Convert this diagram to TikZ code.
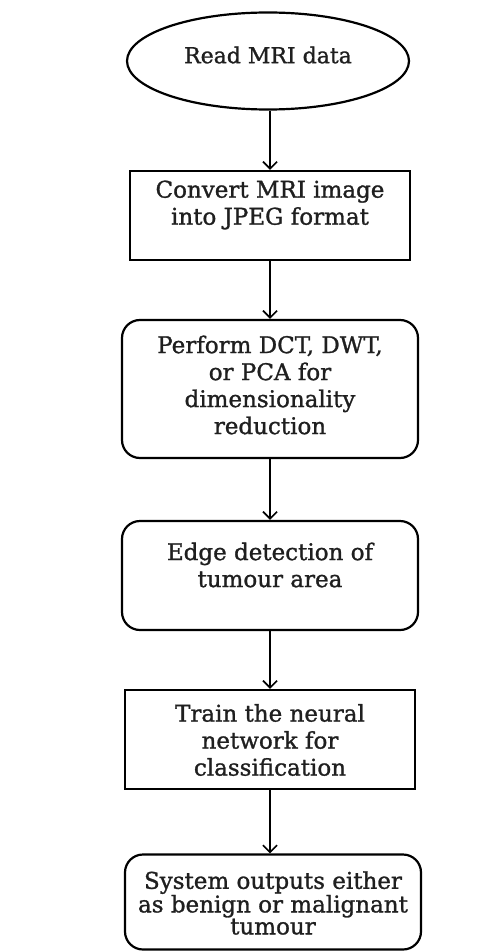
\documentclass[tikz,border=0pt]{standalone}
\usepackage{fontspec}
\setmainfont{DejaVu Serif}
\newfontfamily\boxfont{DejaVu Serif}[FakeBold=1.2]
\usetikzlibrary{arrows.meta,shapes.geometric}
\begin{document}
\begin{tikzpicture}[x=1pt,y=-1pt,
  shapeline/.style={draw=black, line width=2.2pt, inner sep=0pt},
  rectbox/.style={shapeline, rectangle},
  roundbox/.style={shapeline, rectangle, rounded corners=18pt},
  ovalbox/.style={shapeline, ellipse},
  txt/.style={align=center, inner sep=0pt, text=black!88, font=\boxfont\fontsize{23}{27}\selectfont},
  txttight/.style={txt, font=\boxfont\fontsize{23}{22}\selectfont},
  arr/.style={draw=black, line width=1.7pt, -{Straight Barb[length=7pt,width=14pt,line width=1.7pt]}}]
\useasboundingbox (0,0) rectangle (486,952);
\node[ovalbox, minimum width=282pt, minimum height=97pt] (e) at (268,61) {};
\node[txt, font=\boxfont\fontsize{22}{27}\selectfont] (te) at (268,55) {Read MRI data};
\node[rectbox, minimum width=280pt, minimum height=89pt] (b1) at (270,215.5) {};
\node[txt] (t1) at (270,205) {Convert MRI image\\into JPEG format};
\node[roundbox, minimum width=296pt, minimum height=138pt] (b2) at (270,389) {};
\node[txt] (t2) at (270,385) {Perform DCT, DWT,\\or PCA for\\dimensionality\\reduction};
\node[roundbox, minimum width=296pt, minimum height=109pt] (b3) at (270,575.5) {};
\node[txt] (t3) at (270,565) {Edge detection of\\tumour area};
\node[rectbox, minimum width=290pt, minimum height=99pt] (b4) at (270,739.5) {};
\node[txt] (t4) at (270,740) {Train the neural\\network for\\classification};
\node[roundbox, minimum width=296pt, minimum height=95pt] (b5) at (273,902) {};
\node[txttight] (t5) at (273,903) {System outputs either\\as benign or malignant\\tumour};
\draw[arr] (e.south -| b1.north) -- (b1.north);
\draw[arr] (b1.south) -- (b2.north);
\draw[arr] (b2.south) -- (b3.north);
\draw[arr] (b3.south) -- (b4.north);
\draw[arr] (b4.south) -- (b4.south |- b5.north);
\end{tikzpicture}
\end{document}
